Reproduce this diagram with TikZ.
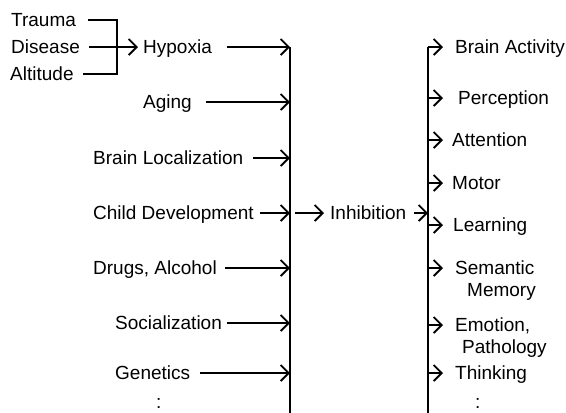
\documentclass[tikz,border=0pt]{standalone}
\usepackage{fontspec}
\setmainfont{Liberation Sans}
\usetikzlibrary{arrows.meta}

\tikzset{
  lbl/.style={anchor=west, inner sep=0pt, text height=13.5pt, text depth=0pt,
    font=\fontsize{19}{22}\selectfont},
  lbltwo/.style={lbl, align=left, text height=57.5pt},
  arr/.style={-{Straight Barb[length=8pt,width=16pt]}, line width=1.8pt},
  ln/.style={line width=1.8pt}
}

\begin{document}
\begin{tikzpicture}[x=1pt, y=-1pt]
  \useasboundingbox (0,0) rectangle (566,413);
  % causes
  \node[lbl] (trauma) at (11,20) {Trauma};
  \node[lbl] (disease) at (11,47) {Disease};
  \node[lbl] (altitude) at (10,74) {Altitude};
  \node[lbl] (hypoxia) at (143,47) {Hypoxia};
  \node[lbl] (aging) at (143,102) {Aging};
  \node[lbl] (brainloc) at (93,158) {Brain Localization};
  \node[lbl] (childdev) at (93,213) {Child Development};
  \node[lbl] (drugs) at (93,268) {Drugs, Alcohol};
  \node[lbl] (social) at (115,323) {Socialization};
  \node[lbl] (genetics) at (115,373) {Genetics};
  \node[lbl] (ldots) at (156,402) {:};
  \node[lbl] (inhib) at (330,213) {Inhibition};
  % effects
  \node[lbl] (bact) at (455,47) {Brain Activity};
  \node[lbl] (perc) at (458,98) {Perception};
  \node[lbl] (att) at (452,140) {Attention};
  \node[lbl] (mot) at (452,183) {Motor};
  \node[lbl] (learn) at (453,225) {Learning};
  \node[lbltwo] (sem) at (455,268) {Semantic\\\hspace{12pt}Memory};
  \node[lbltwo] (emo) at (455,325) {Emotion,\\\hspace{7pt}Pathology};
  \node[lbl] (think) at (455,373) {Thinking};
  \node[lbl] (rdots) at (475,402) {:};
  % bars
  \coordinate (brk) at (117,47);
  \coordinate (lbar) at (290,47);
  \coordinate (lbarend) at (290,413);
  \coordinate (rbar) at (428,47);
  \coordinate (rbarend) at (428,413);
  \coordinate (rtip) at (443,47);
  \draw[ln] (lbar) -- (lbarend);
  \draw[ln] (rbar) -- (rbarend);
  % bracket
  \draw[ln, shorten <=12pt] (trauma) -| (brk);
  \draw[ln, shorten <=9pt] (altitude) -| (brk);
  \draw[arr, shorten <=9pt, shorten >=5pt] (disease) -- (hypoxia);
  % into the left bar
  \draw[arr, shorten <=15pt] (hypoxia) -- (hypoxia -| lbar);
  \draw[arr, shorten <=14pt] (aging) -- (aging -| lbar);
  \draw[arr, shorten <=10pt] (brainloc) -- (brainloc -| lbar);
  \draw[arr, shorten <=6pt] (childdev) -- (childdev -| lbar);
  \draw[arr, shorten <=8pt] (drugs) -- (drugs -| lbar);
  \draw[arr, shorten <=5pt] (social) -- (social -| lbar);
  \draw[arr, shorten <=10pt] (genetics) -- (genetics -| lbar);
  % through inhibition
  \draw[arr, shorten <=5pt, shorten >=6pt] (childdev -| lbar) -- (inhib);
  \draw[arr, shorten <=8pt] (inhib) -- (inhib -| rbar);
  % out of the right bar
  \foreach \n in {bact,perc,att,mot,learn,sem,emo,think}
    \draw[arr] (\n -| rbar) -- (\n -| rtip);
\end{tikzpicture}
\end{document}
